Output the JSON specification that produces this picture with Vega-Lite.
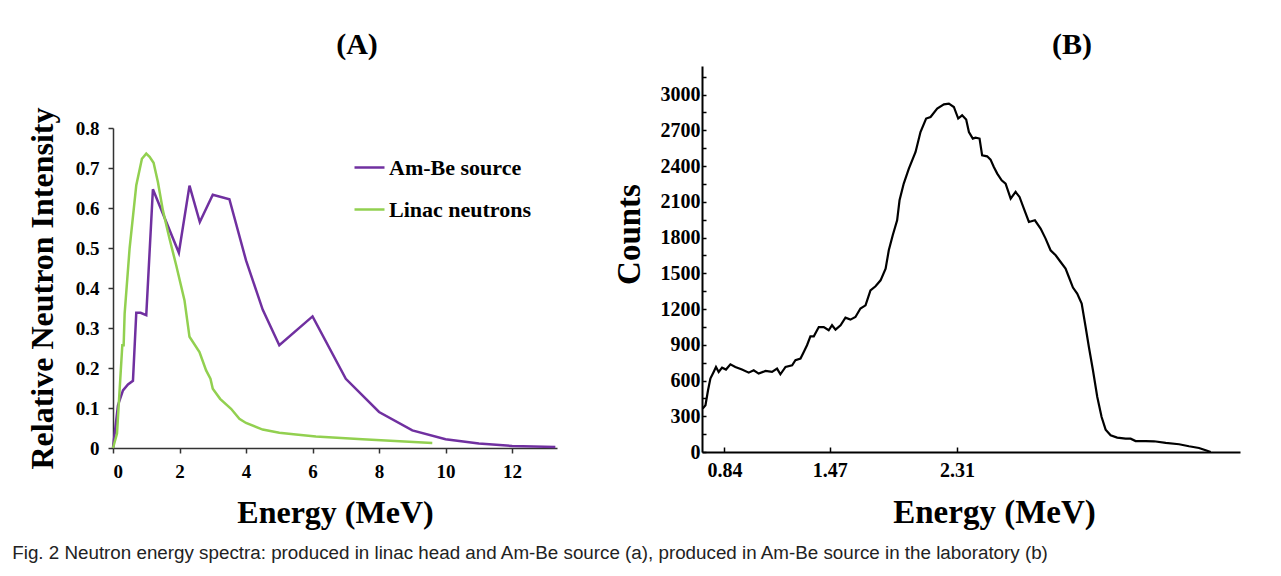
{
  "$schema": "https://vega.github.io/schema/vega-lite/v6.json",
  "background": "white",
  "padding": {"left": 12, "top": 30, "right": 5, "bottom": 5},
  "title": {
    "text": "Fig. 2 Neutron energy spectra: produced in linac head and Am-Be source (a), produced in Am-Be source in the laboratory (b)",
    "orient": "bottom", "anchor": "start", "frame": "bounds",
    "font": "Liberation Sans", "fontSize": 18.8, "fontWeight": "normal", "color": "#222222",
    "offset": 15, "dx": -14
  },
  "config": {
    "view": {"stroke": null},
    "axis": {
      "grid": false,
      "labelFont": "Liberation Serif", "titleFont": "Liberation Serif",
      "labelFontWeight": "bold", "titleFontWeight": "bold",
      "labelColor": "black", "titleColor": "black",
      "domainColor": "#333333", "tickColor": "#333333"
    }
  },
  "datasets": {
    "panelA": [
      {"series": "Am-Be source", "energy": 0, "intensity": 0},
      {"series": "Am-Be source", "energy": 0.15, "intensity": 0.107},
      {"series": "Am-Be source", "energy": 0.3, "intensity": 0.144},
      {"series": "Am-Be source", "energy": 0.45, "intensity": 0.159},
      {"series": "Am-Be source", "energy": 0.6, "intensity": 0.168},
      {"series": "Am-Be source", "energy": 0.7, "intensity": 0.338},
      {"series": "Am-Be source", "energy": 0.83, "intensity": 0.338},
      {"series": "Am-Be source", "energy": 1.0, "intensity": 0.332},
      {"series": "Am-Be source", "energy": 1.2, "intensity": 0.647},
      {"series": "Am-Be source", "energy": 1.98, "intensity": 0.488},
      {"series": "Am-Be source", "energy": 2.3, "intensity": 0.656},
      {"series": "Am-Be source", "energy": 2.61, "intensity": 0.565},
      {"series": "Am-Be source", "energy": 3.0, "intensity": 0.633},
      {"series": "Am-Be source", "energy": 3.5, "intensity": 0.622},
      {"series": "Am-Be source", "energy": 4.0, "intensity": 0.469},
      {"series": "Am-Be source", "energy": 4.5, "intensity": 0.346},
      {"series": "Am-Be source", "energy": 5.0, "intensity": 0.257},
      {"series": "Am-Be source", "energy": 6.0, "intensity": 0.329},
      {"series": "Am-Be source", "energy": 7.0, "intensity": 0.173},
      {"series": "Am-Be source", "energy": 8.0, "intensity": 0.09},
      {"series": "Am-Be source", "energy": 9.0, "intensity": 0.044},
      {"series": "Am-Be source", "energy": 10.0, "intensity": 0.022},
      {"series": "Am-Be source", "energy": 11.0, "intensity": 0.011},
      {"series": "Am-Be source", "energy": 12.0, "intensity": 0.005},
      {"series": "Am-Be source", "energy": 13.3, "intensity": 0.0025},
      {"series": "Linac neutrons", "energy": 0, "intensity": 0},
      {"series": "Linac neutrons", "energy": 0.12, "intensity": 0.036},
      {"series": "Linac neutrons", "energy": 0.28, "intensity": 0.257},
      {"series": "Linac neutrons", "energy": 0.32, "intensity": 0.257},
      {"series": "Linac neutrons", "energy": 0.35, "intensity": 0.336},
      {"series": "Linac neutrons", "energy": 0.5, "intensity": 0.5},
      {"series": "Linac neutrons", "energy": 0.7, "intensity": 0.657},
      {"series": "Linac neutrons", "energy": 0.87, "intensity": 0.723},
      {"series": "Linac neutrons", "energy": 1.0, "intensity": 0.736},
      {"series": "Linac neutrons", "energy": 1.1, "intensity": 0.728},
      {"series": "Linac neutrons", "energy": 1.22, "intensity": 0.713},
      {"series": "Linac neutrons", "energy": 1.35, "intensity": 0.665},
      {"series": "Linac neutrons", "energy": 1.5, "intensity": 0.594},
      {"series": "Linac neutrons", "energy": 1.7, "intensity": 0.523},
      {"series": "Linac neutrons", "energy": 1.9, "intensity": 0.457},
      {"series": "Linac neutrons", "energy": 2.15, "intensity": 0.369},
      {"series": "Linac neutrons", "energy": 2.3, "intensity": 0.278},
      {"series": "Linac neutrons", "energy": 2.6, "intensity": 0.24},
      {"series": "Linac neutrons", "energy": 2.8, "intensity": 0.194},
      {"series": "Linac neutrons", "energy": 2.93, "intensity": 0.173},
      {"series": "Linac neutrons", "energy": 3.0, "intensity": 0.148},
      {"series": "Linac neutrons", "energy": 3.22, "intensity": 0.123},
      {"series": "Linac neutrons", "energy": 3.55, "intensity": 0.098},
      {"series": "Linac neutrons", "energy": 3.8, "intensity": 0.073},
      {"series": "Linac neutrons", "energy": 4.0, "intensity": 0.0625},
      {"series": "Linac neutrons", "energy": 4.5, "intensity": 0.046},
      {"series": "Linac neutrons", "energy": 5.0, "intensity": 0.038},
      {"series": "Linac neutrons", "energy": 5.5, "intensity": 0.034},
      {"series": "Linac neutrons", "energy": 6.1, "intensity": 0.029},
      {"series": "Linac neutrons", "energy": 7.5, "intensity": 0.022},
      {"series": "Linac neutrons", "energy": 9.6, "intensity": 0.0125}
    ],
    "panelB": [
      {"energy": 0.720, "counts": 364}, {"energy": 0.735, "counts": 392}, {"energy": 0.749, "counts": 518},
      {"energy": 0.762, "counts": 616}, {"energy": 0.780, "counts": 672}, {"energy": 0.793, "counts": 714},
      {"energy": 0.808, "counts": 672}, {"energy": 0.827, "counts": 708}, {"energy": 0.849, "counts": 692},
      {"energy": 0.874, "counts": 736}, {"energy": 0.902, "counts": 714}, {"energy": 0.940, "counts": 692},
      {"energy": 0.979, "counts": 666}, {"energy": 1.008, "counts": 686}, {"energy": 1.037, "counts": 658},
      {"energy": 1.077, "counts": 680}, {"energy": 1.116, "counts": 672}, {"energy": 1.146, "counts": 700},
      {"energy": 1.166, "counts": 652}, {"energy": 1.197, "counts": 714}, {"energy": 1.237, "counts": 728},
      {"energy": 1.257, "counts": 770}, {"energy": 1.288, "counts": 784}, {"energy": 1.308, "counts": 840},
      {"energy": 1.328, "counts": 896}, {"energy": 1.349, "counts": 971}, {"energy": 1.370, "counts": 971},
      {"energy": 1.401, "counts": 1049}, {"energy": 1.432, "counts": 1049}, {"energy": 1.463, "counts": 1022},
      {"energy": 1.484, "counts": 1064}, {"energy": 1.506, "counts": 1027}, {"energy": 1.538, "counts": 1064},
      {"energy": 1.569, "counts": 1128}, {"energy": 1.601, "counts": 1111}, {"energy": 1.633, "counts": 1133},
      {"energy": 1.665, "counts": 1204}, {"energy": 1.698, "counts": 1231}, {"energy": 1.730, "counts": 1357},
      {"energy": 1.763, "counts": 1391}, {"energy": 1.796, "counts": 1441}, {"energy": 1.829, "counts": 1539},
      {"energy": 1.850, "counts": 1693}, {"energy": 1.876, "counts": 1819}, {"energy": 1.905, "counts": 1945},
      {"energy": 1.921, "counts": 2113}, {"energy": 1.949, "counts": 2253}, {"energy": 1.983, "counts": 2379},
      {"energy": 2.028, "counts": 2518}, {"energy": 2.061, "counts": 2686}, {"energy": 2.099, "counts": 2799},
      {"energy": 2.129, "counts": 2812}, {"energy": 2.174, "counts": 2882}, {"energy": 2.220, "counts": 2918},
      {"energy": 2.254, "counts": 2924}, {"energy": 2.288, "counts": 2896}, {"energy": 2.318, "counts": 2799},
      {"energy": 2.345, "counts": 2826}, {"energy": 2.373, "counts": 2790}, {"energy": 2.392, "counts": 2686},
      {"energy": 2.419, "counts": 2631}, {"energy": 2.438, "counts": 2639}, {"energy": 2.466, "counts": 2631},
      {"energy": 2.484, "counts": 2490}, {"energy": 2.519, "counts": 2482}, {"energy": 2.543, "counts": 2454},
      {"energy": 2.566, "counts": 2392}, {"energy": 2.590, "counts": 2337}, {"energy": 2.621, "counts": 2281},
      {"energy": 2.649, "counts": 2253}, {"energy": 2.685, "counts": 2127}, {"energy": 2.720, "counts": 2183},
      {"energy": 2.748, "counts": 2141}, {"energy": 2.779, "counts": 2043}, {"energy": 2.815, "counts": 1931},
      {"energy": 2.858, "counts": 1945}, {"energy": 2.899, "counts": 1875}, {"energy": 2.935, "counts": 1791},
      {"energy": 2.971, "counts": 1693}, {"energy": 3.008, "counts": 1651}, {"energy": 3.044, "counts": 1595},
      {"energy": 3.080, "counts": 1539}, {"energy": 3.104, "counts": 1469}, {"energy": 3.134, "counts": 1380},
      {"energy": 3.165, "counts": 1330}, {"energy": 3.198, "counts": 1246}, {"energy": 3.227, "counts": 1049},
      {"energy": 3.251, "counts": 881}, {"energy": 3.281, "counts": 686}, {"energy": 3.313, "counts": 462},
      {"energy": 3.345, "counts": 294}, {"energy": 3.375, "counts": 188}, {"energy": 3.412, "counts": 140},
      {"energy": 3.461, "counts": 121}, {"energy": 3.524, "counts": 112}, {"energy": 3.562, "counts": 112},
      {"energy": 3.599, "counts": 92}, {"energy": 3.675, "counts": 92}, {"energy": 3.738, "counts": 90},
      {"energy": 3.827, "counts": 76}, {"energy": 3.929, "counts": 65}, {"energy": 4.005, "counts": 48},
      {"energy": 4.082, "counts": 34}, {"energy": 4.134, "counts": 14}, {"energy": 4.173, "counts": 0}
    ]
  },
  "spacing": 52,
  "resolve": {
    "scale": {"x": "independent", "y": "independent", "color": "independent"},
    "legend": {"color": "independent"}
  },
  "hconcat": [
    {
      "spacing": 0,
      "bounds": "flush",
      "vconcat": [
        {
          "width": 444,
          "height": 62,
          "title": {"text": "(A)", "font": "Liberation Serif", "fontSize": 30, "fontWeight": "bold", "color": "black", "frame": "group", "anchor": "middle", "offset": 6, "dx": 22},
          "data": {"values": []},
          "mark": "point"
        },
        {
          "width": 444,
          "height": 320,
          "data": {"name": "panelA"},
          "mark": {"type": "line", "strokeWidth": 2.5},
          "encoding": {
            "x": {
              "field": "energy", "type": "quantitative",
              "scale": {"domain": [0, 13.35], "nice": false, "zero": false},
              "axis": {
                "values": [0, 2, 4, 6, 8, 10, 12], "format": "d",
                "title": "Energy (MeV)", "titleFontSize": 32, "titlePadding": 16,
                "labelFontSize": 19, "tickSize": 5, "labelPadding": 9,
                "domainWidth": 1.5, "tickWidth": 1.5
              }
            },
            "y": {
              "field": "intensity", "type": "quantitative",
              "scale": {"domain": [0, 0.8], "nice": false},
              "axis": {
                "values": [0, 0.1, 0.2, 0.3, 0.4, 0.5, 0.6, 0.7, 0.8], "format": "~g",
                "title": "Relative Neutron Intensity", "titleFontSize": 32, "titlePadding": 16,
                "labelFontSize": 19, "tickSize": 5, "labelPadding": 9,
                "domainWidth": 1.5, "tickWidth": 1.5
              }
            },
            "color": {
              "field": "series", "type": "nominal",
              "scale": {"domain": ["Am-Be source", "Linac neutrons"], "range": ["#7030A0", "#92D050"]},
              "legend": {
                "orient": "none", "legendX": 240, "legendY": 85, "title": null,
                "symbolType": "stroke", "symbolSize": 900, "symbolStrokeWidth": 2.5,
                "labelFont": "Liberation Serif", "labelFontWeight": "bold", "labelFontSize": 22,
                "labelColor": "black", "rowPadding": 14, "labelOffset": 3
              }
            }
          }
        }
      ]
    },
    {
      "width": 538,
      "height": 386,
      "title": {"text": "(B)", "font": "Liberation Serif", "fontSize": 30, "fontWeight": "bold", "color": "black", "frame": "group", "anchor": "middle", "offset": 6, "dx": 101},
      "data": {"name": "panelB"},
      "mark": {"type": "line", "color": "black", "strokeWidth": 2.2},
      "encoding": {
        "x": {
          "field": "energy", "type": "quantitative",
          "scale": {"type": "pow", "exponent": 0.8, "domain": [0.716, 4.401], "nice": false, "zero": false},
          "axis": {
            "values": [0.84, 1.47, 2.31], "format": ".2f",
            "title": "Energy (MeV)", "titleFontSize": 33, "titlePadding": 16, "titleX": 292,
            "labelFontSize": 20, "tickSize": -5, "labelPadding": 13,
            "domainColor": "black", "domainWidth": 2, "tickColor": "black", "tickWidth": 1.5
          }
        },
        "y": {
          "field": "counts", "type": "quantitative",
          "scale": {"domain": [0, 3240], "nice": false},
          "axis": {
            "values": [0, 150, 300, 450, 600, 750, 900, 1050, 1200, 1350, 1500, 1650, 1800, 1950, 2100, 2250, 2400, 2550, 2700, 2850, 3000, 3150],
            "format": "d", "labelExpr": "datum.value % 300 === 0 ? datum.label : ''",
            "title": "Counts", "titleFontSize": 33, "titlePadding": 14, "titleY": 168,
            "labelFontSize": 20, "tickSize": -4, "labelPadding": 6,
            "domainColor": "black", "domainWidth": 2, "tickColor": "black", "tickWidth": 1.5
          }
        }
      }
    }
  ]
}
